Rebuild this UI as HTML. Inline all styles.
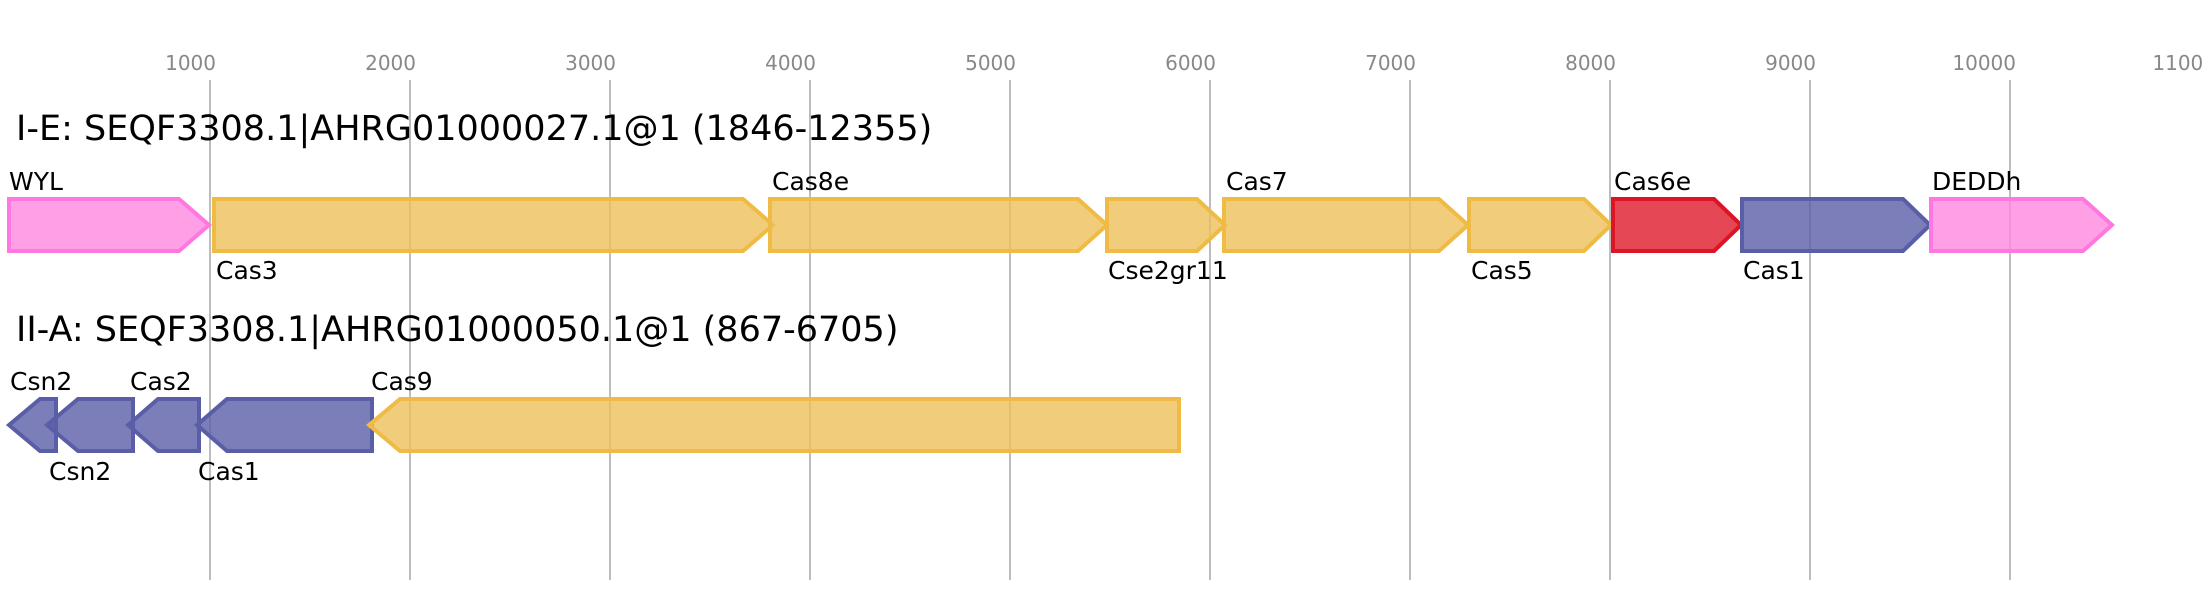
<!DOCTYPE html>
<html><head><meta charset="utf-8"><style>
html,body{margin:0;padding:0;background:#fff;}
svg{display:block;}
text{font-family:"DejaVu Sans","Liberation Sans",sans-serif;}
</style></head><body>
<svg width="2202" height="600" viewBox="0 0 2202 600" xmlns="http://www.w3.org/2000/svg">
<g stroke="#bdbdbd" stroke-width="2">
<line x1="210" y1="80" x2="210" y2="580"/>
<line x1="410" y1="80" x2="410" y2="580"/>
<line x1="610" y1="80" x2="610" y2="580"/>
<line x1="810" y1="80" x2="810" y2="580"/>
<line x1="1010" y1="80" x2="1010" y2="580"/>
<line x1="1210" y1="80" x2="1210" y2="580"/>
<line x1="1410" y1="80" x2="1410" y2="580"/>
<line x1="1610" y1="80" x2="1610" y2="580"/>
<line x1="1810" y1="80" x2="1810" y2="580"/>
<line x1="2010" y1="80" x2="2010" y2="580"/>
</g>
<g fill="#888" font-size="20" text-anchor="end">
<text x="216" y="70">1000</text>
<text x="416" y="70">2000</text>
<text x="616" y="70">3000</text>
<text x="816" y="70">4000</text>
<text x="1016" y="70">5000</text>
<text x="1216" y="70">6000</text>
<text x="1416" y="70">7000</text>
<text x="1616" y="70">8000</text>
<text x="1816" y="70">9000</text>
<text x="2016" y="70">10000</text>
<text x="2216" y="70">11000</text>
</g>
<text x="16" y="140" font-size="35" fill="#000">I-E: SEQF3308.1|AHRG01000027.1@1 (1846-12355)</text>
<text x="16" y="341" font-size="35" fill="#000">II-A: SEQF3308.1|AHRG01000050.1@1 (867-6705)</text>
<g stroke-width="4" fill-opacity="0.8">
<polygon points="9,199 179,199 209,225 179,251 9,251" fill="#ff88e0" stroke="#ff77e0"/>
<polygon points="214,199 743,199 773,225 743,251 214,251" fill="#eec05a" stroke="#efbb44"/>
<polygon points="770,199 1078,199 1107,225 1078,251 770,251" fill="#eec05a" stroke="#efbb44"/>
<polygon points="1107,199 1197,199 1225,225 1197,251 1107,251" fill="#eec05a" stroke="#efbb44"/>
<polygon points="1224,199 1439,199 1468,225 1439,251 1224,251" fill="#eec05a" stroke="#efbb44"/>
<polygon points="1469,199 1584,199 1611,225 1584,251 1469,251" fill="#eec05a" stroke="#efbb44"/>
<polygon points="1613,199 1714,199 1741,225 1714,251 1613,251" fill="#e0192a" stroke="#dc1423"/>
<polygon points="1742,199 1903,199 1930,225 1903,251 1742,251" fill="#5a5ea6" stroke="#5a5ea6"/>
<polygon points="1931,199 2083,199 2112,225 2083,251 1931,251" fill="#ff88e0" stroke="#ff77e0"/>

<polygon points="9,425 40,399 56,399 56,451 40,451" fill="#5a5ea6" stroke="#5a5ea6"/>
<polygon points="47,425 78,399 133,399 133,451 78,451" fill="#5a5ea6" stroke="#5a5ea6"/>
<polygon points="128,425 158,399 199,399 199,451 158,451" fill="#5a5ea6" stroke="#5a5ea6"/>
<polygon points="197,425 227,399 372,399 372,451 227,451" fill="#5a5ea6" stroke="#5a5ea6"/>
<polygon points="369,425 400,399 1179,399 1179,451 400,451" fill="#eec05a" stroke="#efbb44"/>
</g>
<g font-size="25" fill="#000">
<text x="9" y="190">WYL</text>
<text x="216" y="279">Cas3</text>
<text x="772" y="190">Cas8e</text>
<text x="1108" y="279">Cse2gr11</text>
<text x="1226" y="190">Cas7</text>
<text x="1471" y="279">Cas5</text>
<text x="1614" y="190">Cas6e</text>
<text x="1743" y="279">Cas1</text>
<text x="1932" y="190">DEDDh</text>

<text x="10" y="390">Csn2</text>
<text x="49" y="480">Csn2</text>
<text x="130" y="390">Cas2</text>
<text x="198" y="480">Cas1</text>
<text x="371" y="390">Cas9</text>
</g>
</svg>
</body></html>
